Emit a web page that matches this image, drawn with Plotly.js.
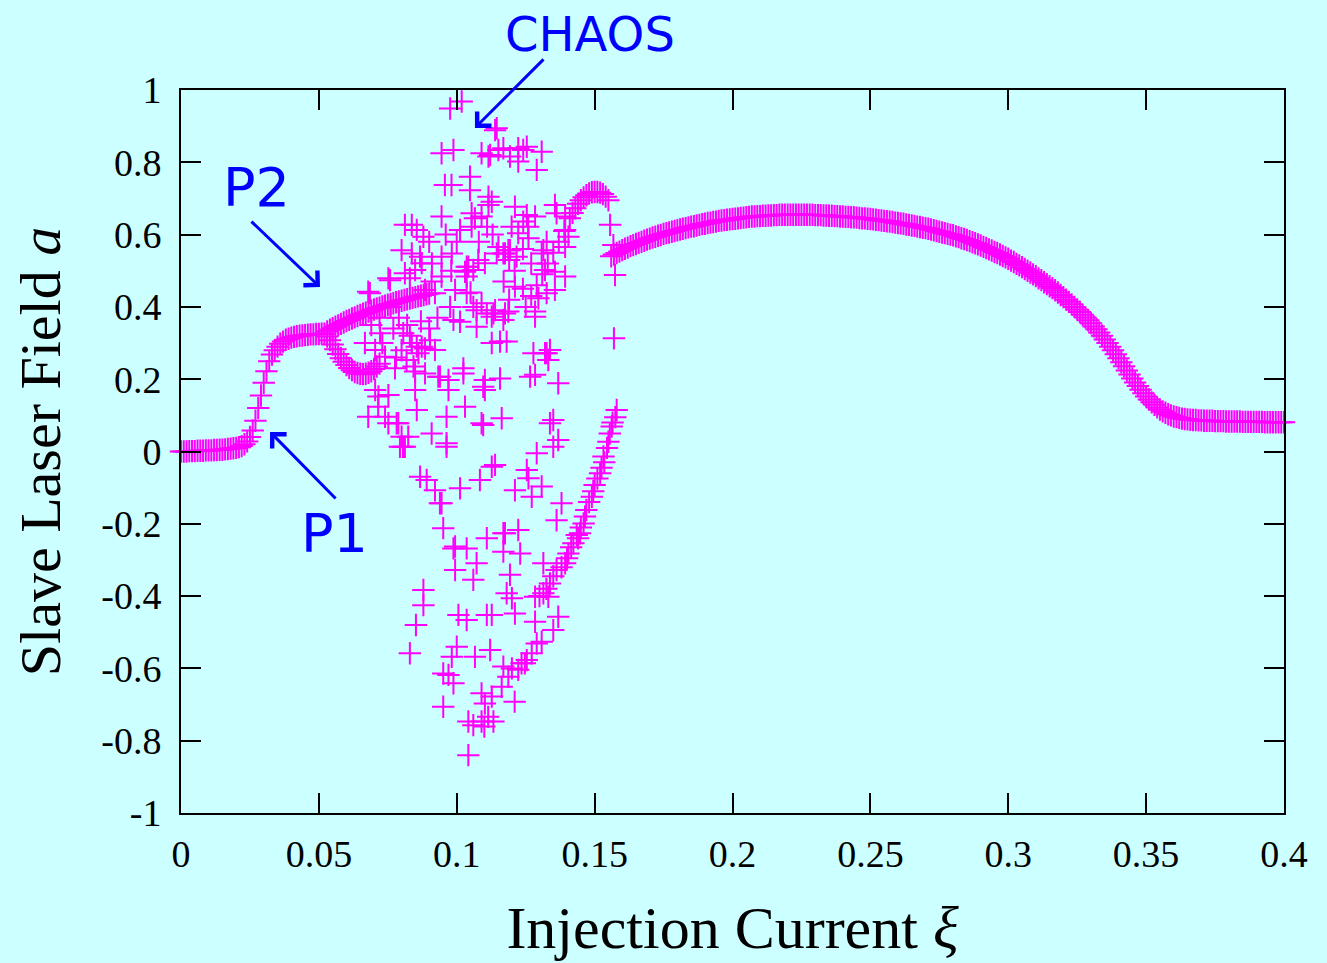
<!DOCTYPE html>
<html>
<head>
<meta charset="utf-8">
<script src="https://cdn.plot.ly/plotly-3.0.1.min.js"></script>
<style>html,body{margin:0;padding:0;background:#ccffff;}#chart{width:1327px;height:963px;}</style>
</head>
<body>
<div id="chart"></div>
<script>
// ---- Data ----
// Period-1 branch before the first bifurcation
const lowX = [0,0.001,0.002,0.003,0.004,0.005,0.006,0.007,0.008,0.009,0.010,0.011,0.012,0.013,0.014,0.015,0.016,0.017,0.018,0.019,0.020,0.021,0.022,0.023,0.024,0.025,0.026,0.027,0.028,0.029,0.030,0.031,0.032,0.033,0.034,0.035,0.036,0.037,0.038,0.039,0.040,0.041,0.042,0.043,0.044,0.045,0.046,0.047,0.048,0.049,0.050,0.051,0.052];
const lowY = [0.000,0.000,0.000,0.001,0.001,0.001,0.002,0.002,0.002,0.003,0.003,0.003,0.004,0.004,0.005,0.005,0.006,0.007,0.008,0.009,0.010,0.012,0.015,0.020,0.028,0.040,0.058,0.085,0.120,0.155,0.190,0.222,0.250,0.268,0.280,0.290,0.298,0.304,0.309,0.312,0.315,0.317,0.319,0.320,0.321,0.322,0.323,0.324,0.324,0.325,0.325,0.326,0.326];

// Period-2 upper branch
const p2UpX = [0.053,0.054,0.055,0.056,0.057,0.058,0.059,0.060,0.061,0.062,0.063,0.064,0.065,0.066,0.067,0.068,0.069,0.070,0.071,0.072,0.073,0.074,0.075,0.076,0.077,0.078,0.079,0.080,0.081,0.082,0.083,0.084,0.085,0.086,0.087,0.088,0.089,0.090];
const p2UpY = [0.332,0.337,0.341,0.345,0.349,0.353,0.357,0.361,0.364,0.368,0.371,0.375,0.378,0.381,0.384,0.387,0.390,0.393,0.396,0.398,0.401,0.403,0.406,0.408,0.410,0.413,0.415,0.417,0.419,0.421,0.423,0.425,0.427,0.429,0.431,0.433,0.435,0.437];

// Period-2 lower branch (loop)
const p2LowX = [0.053,0.054,0.055,0.056,0.057,0.058,0.059,0.060,0.061,0.062,0.063,0.064,0.065,0.066,0.067,0.068,0.069,0.070,0.071,0.072];
const p2LowY = [0.318,0.308,0.296,0.283,0.270,0.258,0.248,0.239,0.231,0.225,0.220,0.217,0.215,0.214,0.215,0.218,0.222,0.228,0.235,0.243];

// Hump at the end of the chaotic window
const humpX = [0.141,0.142,0.143,0.144,0.145,0.146,0.147,0.148,0.149,0.150,0.151,0.152,0.153,0.154,0.155];
const humpY = [0.645,0.660,0.673,0.685,0.695,0.703,0.709,0.714,0.717,0.718,0.718,0.716,0.712,0.705,0.695];

// Rising chain leading to the hump
const ridgeX = [0.125,0.127,0.129,0.131,0.133,0.135,0.137,0.139];
const ridgeY = [0.400,0.430,0.460,0.490,0.520,0.550,0.580,0.610];

// Lower right arm of the chaotic region
const armX = [0.1100,0.1114,0.1127,0.1163,0.1187,0.1210,0.1223,0.1247,0.1272,0.1308,0.1350,0.1368,0.1300,0.1314,0.1325,0.1338,0.1350,0.1362,0.1380,0.1393,0.1400,0.1405,0.1415,0.1423,0.1435,0.1440,0.1447,0.1450,0.1460,0.1465,0.1470,0.1480,0.1490,0.1495,0.1500,0.1510,0.1520,0.1525,0.1532,0.1535,0.1545,0.1550,0.1555,0.1562,0.1565,0.1575,0.1580];
const armY = [-0.761,-0.734,-0.678,-0.651,-0.623,-0.692,-0.604,-0.586,-0.558,-0.526,-0.494,-0.457,-0.400,-0.392,-0.380,-0.365,-0.345,-0.328,-0.320,-0.309,-0.295,-0.282,-0.265,-0.254,-0.231,-0.240,-0.226,-0.210,-0.199,-0.180,-0.162,-0.140,-0.125,-0.110,-0.093,-0.075,-0.060,-0.045,-0.014,-0.030,0.010,0.027,0.050,0.069,0.080,0.095,0.115];

// Scattered chaotic points
const chaosX = [0.0976,0.1018,0.0945,0.0988,0.1090,0.1115,0.0957,0.0981,0.1048,0.1048,0.1115,0.1115,0.0945,0.0812,0.0837,0.0855,0.0879,0.1054,0.1066,0.1090,0.1012,0.1054,0.0800,0.0837,0.0867,0.0873,0.0849,0.0982,0.0945,0.1042,0.1078,0.0752,0.0812,0.0830,0.0909,0.0945,0.1030,0.0679,0.0885,0.0921,0.0994,0.1060,0.1090,
0.1139,0.1151,0.1169,0.1223,0.1241,0.1254,0.1308,0.1223,0.1290,0.1121,0.1193,0.1127,0.1211,0.1254,0.1284,0.1241,0.1356,0.1362,0.1393,0.1199,0.1223,0.1259,0.1326,0.1314,0.1393,0.1405,0.1393,0.1175,0.1102,0.1151,0.1187,0.1217,0.1308,0.1320,0.1356,0.1393,0.1326,0.1356,0.1296,0.1211,0.1139,0.1187,0.1284,
0.1556,0.1568,0.1574,0.1570,
0.0685,0.0758,0.0806,0.0722,0.0855,0.0903,0.0976,0.0988,0.1072,0.1133,0.1024,0.1096,0.1157,0.0843,0.0939,0.1278,0.1326,0.1266,0.1368,0.1338,0.1145,0.1036,0.1072,0.1109,0.1169,0.1060,0.1036,0.1169,0.1193,
0.0679,0.0740,0.0752,0.0788,0.0800,0.0812,0.0824,0.0716,0.0704,0.0752,0.0849,0.0855,0.0909,0.0963,0.0970,0.1024,0.1030,0.1096,0.1102,0.0867,0.0891,0.0921,0.0945,0.0951,0.1012,0.1084,0.1127,0.0861,0.0885,0.0921,0.0818,0.0849,0.0885,0.0933,0.0970,0.1012,0.0776,0.0740,0.0704,0.0667,0.0837,0.0873,
0.1284,0.1320,0.1338,0.1332,0.1284,0.1102,0.1163,0.1350,0.1368,0.1350,0.1290,0.1139,0.1254,0.1260,0.1211,0.1272,0.1308,0.1380,0.1362,0.1169,0.1223,0.1127,0.1175,0.1157,0.1127,0.1181,
0.0715,0.0782,0.0963,0.1090,0.0794,0.0939,0.0994,0.1036,0.1109,0.1175,0.1230,0.1169,0.1072,0.0994,0.1060,0.1193,0.1314,0.0879,0.0879,0.1181,0.1200,0.1284,0.1332,0.1006,0.1036,0.1109,0.1127,0.1211,0.1284,0.0852,0.0830,0.1000,0.0982,0.1066,0.1121,0.0951,0.0970,0.0988,0.1090,0.0951,0.1169,0.1200,0.1235,0.1254,0.1290,0.1042,0.1060,0.1090,0.1133,0.1042,0.1102,0.0988,0.0805,0.0963,
0.1110,0.1145,0.1190,0.1036,0.1000,0.1080,0.1130,0.1170,0.1210,0.1240,0.1260,0.1270,0.1050,0.1190,0.1240,0.0960,0.0900,0.0910,0.0980,
0.0760,0.0790,0.0820,0.0770,0.0730,0.0800,0.0830,0.0870,0.0900,0.0930,0.0780,0.0720,0.0690];
const chaosY = [0.949,0.968,0.825,0.834,0.825,0.816,0.737,0.737,0.760,0.723,0.705,0.682,0.650,0.627,0.627,0.613,0.594,0.659,0.645,0.650,0.613,0.622,0.557,0.548,0.539,0.521,0.502,0.548,0.539,0.511,0.530,0.479,0.493,0.479,0.470,0.484,0.497,0.442,0.447,0.438,0.447,0.400,0.410,
0.889,0.834,0.839,0.839,0.834,0.843,0.829,0.802,0.779,0.820,0.816,0.691,0.677,0.654,0.650,0.636,0.682,0.659,0.650,0.622,0.604,0.622,0.580,0.557,0.613,0.594,0.566,0.548,0.521,0.566,0.557,0.539,0.548,0.502,0.497,0.484,0.438,0.447,0.424,0.456,0.391,0.387,0.387,
0.627,0.571,0.488,0.313,
0.438,0.474,0.327,0.327,0.290,0.308,0.400,0.364,0.345,0.382,0.216,0.179,0.202,0.235,0.207,0.272,0.272,0.207,0.189,0.078,0.894,0.438,0.391,0.382,0.364,0.502,0.511,0.548,0.557,
0.096,0.096,0.078,0.078,0.041,0.013,0.041,0.152,0.170,0.156,0.170,0.115,0.050,0.013,0.170,0.230,0.124,0.073,0.198,-0.070,-0.079,-0.107,-0.143,-0.212,-0.102,-0.079,-0.042,0.272,0.285,0.281,0.253,0.221,0.216,0.207,0.198,0.359,0.230,0.262,0.281,0.300,0.300,0.290,
0.373,0.272,0.281,0.253,0.212,0.170,0.092,0.087,0.032,0.013,-0.005,-0.037,-0.051,-0.074,-0.107,-0.125,-0.097,-0.143,-0.190,-0.226,-0.217,0.373,0.382,0.304,0.300,0.304,
0.124,0.078,0.096,0.078,0.013,-0.143,-0.263,-0.268,-0.240,-0.226,-0.282,-0.277,-0.309,-0.328,-0.355,-0.341,-0.309,-0.383,-0.425,-0.392,-0.406,-0.402,-0.402,-0.452,-0.466,-0.452,-0.452,-0.448,-0.471,-0.480,-0.558,-0.540,-0.568,-0.568,-0.549,-0.614,-0.618,-0.641,-0.669,-0.706,-0.595,-0.600,-0.586,-0.577,-0.531,-0.747,-0.757,-0.747,-0.747,-0.840,-0.697,-0.268,0.013,0.023,
0.622,0.548,0.530,0.484,0.580,0.580,0.600,0.470,0.500,0.560,0.590,0.520,0.440,0.420,0.450,0.600,0.580,0.520,0.500,
0.400,0.370,0.350,0.340,0.300,0.280,0.320,0.360,0.340,0.370,0.260,0.370,0.350];

// Period-1 branch after the chaotic window
const highX = [0.156,0.157,0.158,0.159,0.160,0.161,0.162,0.163,0.164,0.165,0.166,0.167,0.168,0.169,0.170,0.171,0.172,0.173,0.174,0.175,0.176,0.177,0.178,0.179,0.180,0.181,0.182,0.183,0.184,0.185,0.186,0.187,0.188,0.189,0.190,0.191,0.192,0.193,0.194,0.195,0.196,0.197,0.198,0.199,
0.200,0.201,0.202,0.203,0.204,0.205,0.206,0.207,0.208,0.209,0.210,0.211,0.212,0.213,0.214,0.215,0.216,0.217,0.218,0.219,0.220,0.221,0.222,0.223,0.224,0.225,0.226,0.227,0.228,0.229,0.230,0.231,0.232,0.233,0.234,0.235,0.236,0.237,0.238,0.239,0.240,0.241,0.242,0.243,0.244,0.245,0.246,0.247,0.248,0.249,
0.250,0.251,0.252,0.253,0.254,0.255,0.256,0.257,0.258,0.259,0.260,0.261,0.262,0.263,0.264,0.265,0.266,0.267,0.268,0.269,0.270,0.271,0.272,0.273,0.274,0.275,0.276,0.277,0.278,0.279,0.280,0.281,0.282,0.283,0.284,0.285,0.286,0.287,0.288,0.289,0.290,0.291,0.292,0.293,0.294,0.295,0.296,0.297,0.298,0.299,
0.300,0.301,0.302,0.303,0.304,0.305,0.306,0.307,0.308,0.309,0.310,0.311,0.312,0.313,0.314,0.315,0.316,0.317,0.318,0.319,0.320,0.321,0.322,0.323,0.324,0.325,0.326,0.327,0.328,0.329,0.330,0.331,0.332,0.333,0.334,0.335,0.336,0.337,0.338,0.339,0.340,0.341,0.342,0.343,0.344,0.345,0.346,0.347,0.348,0.349,
0.350,0.351,0.352,0.353,0.354,0.355,0.356,0.357,0.358,0.359,0.360,0.361,0.362,0.363,0.364,0.365,0.366,0.367,0.368,0.369,0.370,0.371,0.372,0.373,0.374,0.375,0.376,0.377,0.378,0.379,0.380,0.381,0.382,0.383,0.384,0.385,0.386,0.387,0.388,0.389,0.390,0.391,0.392,0.393,0.394,0.395,0.396,0.397,0.398,0.399,0.400];
const highY = [0.540,0.545,0.549,0.553,0.557,0.561,0.564,0.568,0.571,0.574,0.577,0.580,0.583,0.586,0.589,0.592,0.594,0.597,0.599,0.602,0.604,0.606,0.608,0.610,0.612,0.614,0.616,0.618,0.620,0.622,0.623,0.625,0.627,0.629,0.630,0.632,0.633,0.635,0.636,0.638,0.639,0.640,0.641,0.642,
0.643,0.644,0.645,0.646,0.647,0.648,0.649,0.650,0.650,0.651,0.651,0.652,0.652,0.653,0.653,0.654,0.654,0.655,0.655,0.655,0.655,0.655,0.655,0.655,0.655,0.655,0.655,0.655,0.655,0.655,0.654,0.654,0.654,0.653,0.653,0.652,0.652,0.651,0.651,0.650,0.650,0.649,0.649,0.648,0.648,0.647,0.646,0.645,0.645,0.644,
0.643,0.642,0.641,0.640,0.639,0.638,0.637,0.636,0.635,0.633,0.632,0.631,0.630,0.628,0.627,0.625,0.624,0.622,0.621,0.619,0.618,0.616,0.614,0.612,0.610,0.608,0.606,0.604,0.602,0.600,0.598,0.595,0.593,0.590,0.588,0.585,0.582,0.579,0.576,0.573,0.570,0.566,0.563,0.559,0.556,0.552,0.549,0.545,0.541,0.537,
0.533,0.528,0.524,0.519,0.515,0.510,0.505,0.500,0.495,0.490,0.485,0.479,0.474,0.468,0.463,0.457,0.452,0.446,0.440,0.433,0.427,0.420,0.414,0.407,0.400,0.393,0.386,0.378,0.371,0.363,0.355,0.346,0.338,0.329,0.320,0.310,0.300,0.290,0.280,0.269,0.258,0.247,0.236,0.224,0.213,0.202,0.191,0.181,0.171,0.161,
0.152,0.144,0.136,0.129,0.122,0.116,0.111,0.107,0.103,0.100,0.097,0.095,0.093,0.091,0.090,0.089,0.088,0.087,0.087,0.086,0.086,0.085,0.085,0.085,0.085,0.084,0.084,0.084,0.084,0.083,0.083,0.083,0.083,0.083,0.083,0.082,0.082,0.082,0.082,0.082,0.082,0.082,0.082,0.081,0.081,0.081,0.081,0.081,0.081,0.081,0.081];

// Axis ticks
const xTickVals = [0,0.05,0.1,0.15,0.2,0.25,0.3,0.35,0.4];
const xTickText = ['0','0.05','0.1','0.15','0.2','0.25','0.3','0.35','0.4'];
const yTickVals = [-1,-0.8,-0.6,-0.4,-0.2,0,0.2,0.4,0.6,0.8,1];
const yTickText = ['-1','-0.8','-0.6','-0.4','-0.2','0','0.2','0.4','0.6','0.8','1'];

// ---- Drawing ----
const MAG = '#ff00ff';
const mk = {symbol:'cross-thin-open', size:16, color:MAG, line:{color:MAG, width:2}};
function tr(x,y){ return {x:x, y:y, type:'scatter', mode:'markers', marker:mk, cliponaxis:false, hoverinfo:'x+y', showlegend:false}; }

const traces = [tr(lowX,lowY), tr(p2UpX,p2UpY), tr(p2LowX,p2LowY), tr(chaosX,chaosY), tr(ridgeX,ridgeY), tr(humpX,humpY), tr(armX,armY), tr(highX,highY)];

const serif = 'Liberation Serif, DejaVu Serif, serif';
const sans = 'DejaVu Sans, Noto Sans, sans-serif';
const BLUE = '#0000ff';
const axisCommon = {showline:true, linecolor:'#000', linewidth:2, mirror:'allticks', ticks:'inside', ticklen:20, tickwidth:2, tickcolor:'#000', showgrid:false, zeroline:false, tickfont:{family:serif, size:38, color:'#000'}, tickmode:'array', automargin:false};

function arrow(hx,hy,tx,ty){ return {x:hx, y:hy, ax:tx, ay:ty, axref:'x', ayref:'y', xref:'x', yref:'y', text:'', showarrow:true, arrowhead:4, arrowsize:1.3, arrowwidth:3, arrowcolor:BLUE}; }
function label(x,y,t,sz,ref){ return {x:x, y:y, xref:ref||'x', yref:ref?'paper':'y', text:t, showarrow:false, font:{family:sans, size:sz, color:BLUE}, xanchor:'center', yanchor:'middle'}; }

const layout = {
  width:1327, height:963,
  paper_bgcolor:'#ccffff', plot_bgcolor:'#ccffff',
  margin:{l:181, r:43, t:90, b:150},
  xaxis:Object.assign({}, axisCommon, {range:[0,0.4], tickvals:xTickVals, ticktext:xTickText, ticklabelstandoff:6, title:{text:'Injection Current <i>ξ</i>', font:{family:serif, size:60, color:'#000'}, standoff:32}}),
  yaxis:Object.assign({}, axisCommon, {range:[-1,1], tickvals:yTickVals, ticktext:yTickText, ticklabelstandoff:10, title:{text:'Slave Laser Field <i>a</i>', font:{family:serif, size:58, color:'#000'}, standoff:22}}),
  annotations:[
    label(0.371,1.077,'CHAOS',48,'paper'),
    label(0.0272,0.729,'P2',54),
    label(0.0555,-0.228,'P1',54),
    arrow(0.1066,0.895,0.132,1.089),
    arrow(0.0504,0.455,0.025,0.640),
    arrow(0.0323,0.054,0.0566,-0.134)
  ]
};

Plotly.newPlot('chart', traces, layout, {displayModeBar:false, staticPlot:true});
</script>
</body>
</html>
